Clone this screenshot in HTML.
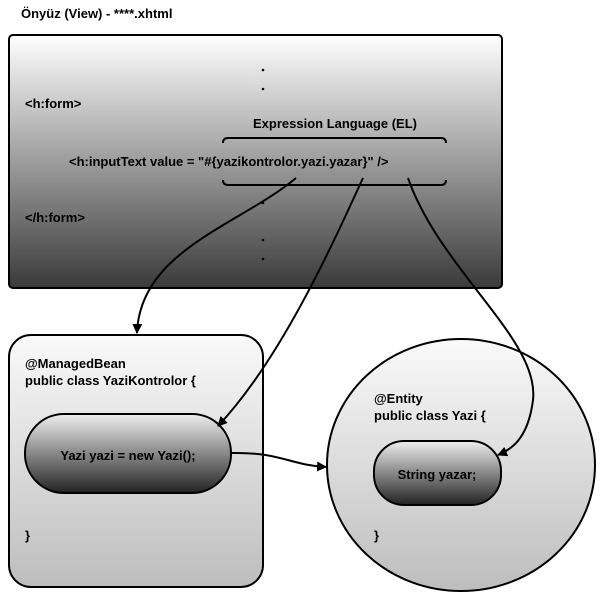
<!DOCTYPE html>
<html><head><style>
body{margin:0;background:#fff;width:600px;height:597px;overflow:hidden}
svg text{font-family:"Liberation Sans",sans-serif;font-weight:bold;font-size:13px;fill:#000}
</style></head><body>
<svg width="600" height="597" viewBox="0 0 600 597">
<defs>
<linearGradient id="g1" x1="0" y1="0" x2="0" y2="1"><stop offset="0" stop-color="#fff"/><stop offset="1" stop-color="#3a3a3a"/></linearGradient>
<linearGradient id="g2" x1="0" y1="0" x2="0" y2="1"><stop offset="0" stop-color="#fafafa"/><stop offset="1" stop-color="#bdbdbd"/></linearGradient>
<linearGradient id="g3" x1="0" y1="0" x2="0" y2="1"><stop offset="0" stop-color="#eee"/><stop offset="1" stop-color="#222"/></linearGradient>
<marker id="a" markerWidth="10" markerHeight="10" refX="9" refY="5" orient="auto" markerUnits="userSpaceOnUse"><path d="M0,0 L10,5 L0,10 Z" fill="#000"/></marker>
</defs>
<text x="21" y="18">Önyüz (View) - ****.xhtml</text>
<rect x="9" y="35" width="493" height="253" rx="4" fill="url(#g1)" stroke="#000" stroke-width="2"/>
<g fill="#000"><circle cx="263" cy="70" r="1.3"/><circle cx="263" cy="89" r="1.3"/><circle cx="263" cy="203" r="1.3"/><circle cx="263" cy="240" r="1.3"/><circle cx="263" cy="259" r="1.3"/></g>
<text x="25" y="108">&lt;h:form&gt;</text>
<text x="335" y="128" text-anchor="middle">Expression Language (EL)</text>
<path d="M223,143 Q223,138 228,138 L441,138 Q446,138 446,143" fill="none" stroke="#000" stroke-width="2"/>
<path d="M223,180 Q223,185 228,185 L441,185 Q446,185 446,180" fill="none" stroke="#000" stroke-width="2"/>
<text x="69" y="166">&lt;h:inputText value = "#{yazikontrolor.yazi.yazar}" /&gt;</text>
<text x="25" y="222">&lt;/h:form&gt;</text>
<rect x="9" y="335" width="254" height="252" rx="22" fill="url(#g2)" stroke="#000" stroke-width="2"/>
<text x="25" y="368">@ManagedBean</text>
<text x="25" y="385">public class YaziKontrolor {</text>
<rect x="25" y="414" width="206" height="79" rx="39" fill="url(#g3)" stroke="#000" stroke-width="2"/>
<text x="128" y="460" text-anchor="middle">Yazi yazi = new Yazi();</text>
<text x="25" y="540">}</text>
<ellipse cx="461" cy="465" rx="134" ry="126" fill="url(#g2)" stroke="#000" stroke-width="2"/>
<text x="374" y="403">@Entity</text>
<text x="374" y="420">public class Yazi {</text>
<rect x="374" y="441" width="127" height="64" rx="30" fill="url(#g3)" stroke="#000" stroke-width="2"/>
<text x="437" y="479" text-anchor="middle">String yazar;</text>
<text x="374" y="540">}</text>
<g fill="none" stroke="#000" stroke-width="2">
<path d="M296,178 C240,225 140,250 137,333" marker-end="url(#a)"/>
<path d="M363,178 C330,250 280,360 218,426" marker-end="url(#a)"/>
<path d="M408,178 C440,270 540,340 533,400 C528,440 510,450 498,455" marker-end="url(#a)"/>
<path d="M232,453 C280,452 290,465 326,467" marker-end="url(#a)"/>
</g>
</svg>
</body></html>
